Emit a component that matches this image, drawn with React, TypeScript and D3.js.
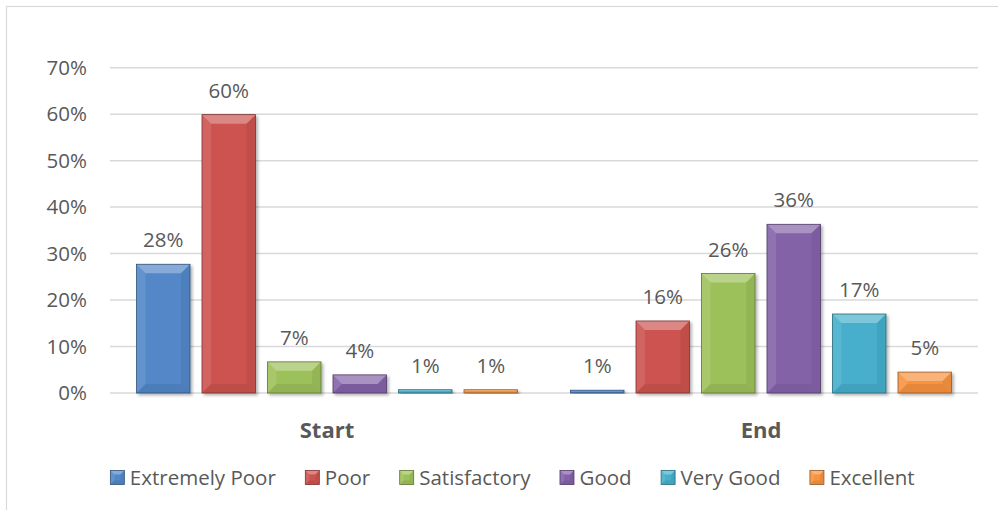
import React, { useEffect, useRef } from "react";
import * as d3 from "d3";

const categories = ["Start", "End"];
const seriesNames = ["Extremely Poor", "Poor", "Satisfactory", "Good", "Very Good", "Excellent"];
const seriesColors = ["#5287C8", "#CC534F", "#9DC15A", "#8462A8", "#46AFCB", "#F7933F"];
const startValues = [27.7, 59.9, 6.7, 3.9, 0.7, 0.7];
const endValues = [0.6, 15.5, 25.7, 36.3, 17.0, 4.5];
const startLabels = ["28%", "60%", "7%", "4%", "1%", "1%"];
const endLabels = ["1%", "16%", "26%", "36%", "17%", "5%"];
const yTicks = [0, 10, 20, 30, 40, 50, 60, 70];

const W = 998;
const H = 510;
const FONT = "'Open Sans', 'Noto Sans', sans-serif";
const TEXT = "#595959";

function drawBevelBox(g: any, x: number, y: number, w: number, h: number, color: string, bev: number, shadow: boolean) {
  const b = Math.max(0, Math.min(bev, h / 2, w / 2));
  const base = d3.color(color)!;
  const grp = g.append("g");
  if (shadow) grp.attr("filter", "url(#barShadow)");
  grp.append("rect").attr("x", x).attr("y", y).attr("width", w).attr("height", h).attr("fill", color);
  const poly = (pts: number[][], fill: string, op: number) =>
    grp.append("polygon").attr("points", pts.map((p) => p.join(",")).join(" ")).attr("fill", fill).attr("fill-opacity", op);
  if (b > 0.5) {
    poly([[x, y], [x + w, y], [x + w - b, y + b], [x + b, y + b]], "#ffffff", 0.3);
    poly([[x, y], [x + b, y + b], [x + b, y + h - b], [x, y + h]], "#ffffff", 0.1);
    poly([[x + w, y], [x + w, y + h], [x + w - b, y + h - b], [x + w - b, y + b]], "#000000", 0.06);
    poly([[x, y + h], [x + b, y + h - b], [x + w - b, y + h - b], [x + w, y + h]], "#000000", 0.07);
  }
  grp.append("rect").attr("x", x).attr("y", y).attr("width", w).attr("height", h)
    .attr("fill", "none").attr("stroke", base.darker(1.4).formatHex()).attr("stroke-width", 0.8);
}

export default function App() {
  const ref = useRef<SVGSVGElement | null>(null);

  useEffect(() => {
    document.body.style.margin = "0";
    const svg = d3.select(ref.current!);
    svg.selectAll("*").remove();

    const defs = svg.append("defs");
    const f = defs.append("filter").attr("id", "barShadow").attr("x", "-20%").attr("y", "-20%").attr("width", "150%").attr("height", "150%");
    f.append("feDropShadow").attr("dx", 2).attr("dy", 2).attr("stdDeviation", 1.6).attr("flood-color", "#000").attr("flood-opacity", 0.3);

    svg.append("rect").attr("x", 0).attr("y", 0).attr("width", W).attr("height", H).attr("fill", "#fff");
    svg.append("rect").attr("x", 6.5).attr("y", 6.5).attr("width", 1100).attr("height", 1100)
      .attr("fill", "none").attr("stroke", "#d9d9d9").attr("stroke-width", 1.2);

    const x0 = d3.scaleBand<string>().domain(categories).range([110, 978]).paddingInner(0).paddingOuter(0);
    const cw = x0.bandwidth();
    const x1 = d3.scaleBand<string>().domain(seriesNames).range([26.5, cw - 26.5]).paddingInner(0.183).paddingOuter(0);
    const y = d3.scaleLinear().domain([0, 70]).range([393, 67.7]);

    const grid = svg.append("g");
    yTicks.forEach((t) => {
      grid.append("line").attr("x1", 110).attr("x2", 978).attr("y1", y(t)).attr("y2", y(t))
        .attr("stroke", "#d9d9d9").attr("stroke-width", 1.5);
      svg.append("text").attr("x", 87).attr("y", y(t)).attr("dy", "0.35em").attr("text-anchor", "end")
        .attr("font-family", FONT).attr("font-size", 20.5).attr("fill", TEXT).text(`${t}%`);
    });

    const valuesByCat = [startValues, endValues];
    const labelsByCat = [startLabels, endLabels];
    categories.forEach((c, ci) => {
      const g = svg.append("g").attr("transform", `translate(${x0(c)},0)`);
      seriesNames.forEach((s, si) => {
        const v = valuesByCat[ci][si];
        const bx = x1(s)!;
        const bw = x1.bandwidth();
        const top = y(v);
        drawBevelBox(g, bx, top, bw, y(0) - top, seriesColors[si], 9, true);
        g.append("text").attr("x", bx + bw / 2).attr("y", top - 17).attr("text-anchor", "middle")
          .attr("font-family", FONT).attr("font-size", 20.5).attr("fill", TEXT).text(labelsByCat[ci][si]);
      });
      svg.append("text").attr("x", x0(c)! + cw / 2).attr("y", 437.5).attr("text-anchor", "middle")
        .attr("font-family", FONT).attr("font-size", 22).attr("font-weight", "bold").attr("fill", TEXT).text(c);
    });

    const leg = svg.append("g");
    const GAP = 29.5;
    let cx = 0;
    seriesNames.forEach((s, i) => {
      const it = leg.append("g");
      drawBevelBox(it, cx, 470.5, 14, 14, seriesColors[i], 4, false);
      const t = it.append("text").attr("x", cx + 19.5).attr("y", 477.5).attr("dy", "0.35em")
        .attr("font-family", FONT).attr("font-size", 20.5).attr("fill", TEXT).text(s);
      const tw = (t.node() as SVGTextElement).getComputedTextLength();
      cx += 19.5 + tw + GAP;
    });
    const total = cx - GAP;
    leg.attr("transform", `translate(${512.5 - total / 2},0)`);
  }, []);

  return (
    <div style={{ position: "absolute", left: 0, top: 0 }}>
      <svg ref={ref} width={W} height={H} style={{ display: "block" }} />
    </div>
  );
}
